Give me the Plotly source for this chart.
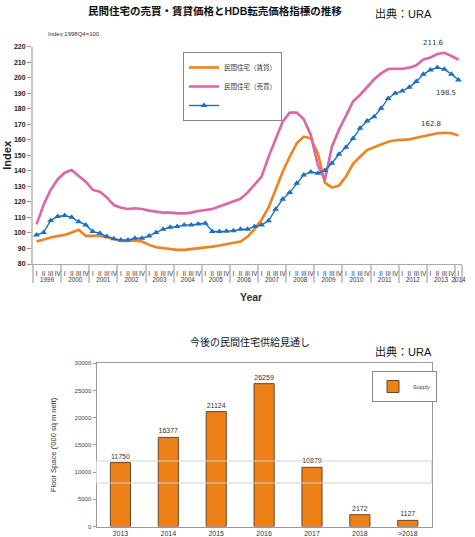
import plotly.graph_objects as go

# ---------------- data ----------------
years = ["1999", "2000", "2001", "2002", "2003", "2004", "2005", "2006",
         "2007", "2008", "2009", "2010", "2011", "2012", "2013", "2014"]
quarter_labels = ["I", "II", "III", "IV"]

rental = [94.5, 96.0, 97.0, 98.1, 98.7, 100.3, 102.0, 98.1, 98.1, 98.1,
          97.3, 96.2, 94.9, 94.9, 95.1, 94.5, 92.3, 90.8, 90.2, 89.7,
          89.1, 89.1, 89.5, 90.2, 90.8, 91.2, 91.9, 92.7, 93.5, 94.5,
          97.5, 102.5, 108.5, 116.5, 128.0, 139.5, 149.1, 157.7, 162.1, 161.0,
          151.3, 132.4, 129.2, 130.5, 136.3, 144.5, 149.1, 153.4, 155.2, 157.1,
          158.8, 159.7, 159.9, 160.3, 161.4, 162.3, 163.1, 164.2, 164.6, 164.2,
          162.8]
sale = [105.5, 118.0, 127.7, 134.5, 138.8, 140.5, 136.7, 133.0, 127.7, 126.6,
        122.9, 118.0, 116.3, 115.4, 115.9, 115.4, 114.4, 113.7, 113.1, 113.1,
        112.6, 112.6, 113.1, 114.1, 114.8, 115.4, 117.0, 118.7, 120.6, 122.0,
        126.0, 130.9, 136.3, 149.1, 161.0, 171.7, 177.5, 177.5, 173.2, 163.1,
        143.8, 134.2, 155.6, 166.4, 175.4, 184.6, 188.9, 194.2, 199.0, 202.8,
        205.6, 205.8, 205.8, 206.5, 208.0, 211.8, 213.1, 215.3, 216.1, 214.0,
        211.6]
hdb = [98.7, 100.3, 108.0, 110.6, 111.2, 110.1, 107.3, 105.2, 100.9, 99.8,
       97.7, 96.2, 95.5, 95.5, 96.6, 96.6, 98.1, 100.3, 102.4, 103.7,
       104.1, 105.2, 105.2, 105.8, 106.3, 101.0, 101.0, 101.1, 101.5, 102.4,
       102.4, 104.1, 105.2, 107.8, 115.3, 121.7, 126.0, 132.0, 137.4, 139.3,
       138.5, 140.2, 144.9, 150.7, 155.2, 160.8, 167.4, 172.1, 174.9, 180.3,
       186.7, 190.0, 191.5, 193.8, 197.5, 202.2, 205.0, 206.6, 205.4, 202.3,
       198.5]

supply_cats = ["2013", "2014", "2015", "2016", "2017", "2018", ">2018"]
supply = [11750, 16377, 21124, 26259, 10879, 2172, 1127]

# ---------------- styles ----------------
ORANGE = "#F08221"
PINK = "#DB67A6"
BLUE = "#1C70BE"
BAR = "#EE8018"
FONT = "Liberation Sans, 'Noto Sans CJK JP', sans-serif"
W, H = 475, 537

outer, inner = [], []
for y in years:
    qs = quarter_labels if y != "2014" else quarter_labels[:1]
    for q in qs:
        outer.append(y)
        inner.append(q)
n = len(outer)

fig = go.Figure()
fig.add_trace(go.Scatter(x=[outer, inner], y=rental, mode="lines",
                         line=dict(color=ORANGE, width=2.6),
                         name="民間住宅（賃貸）", xaxis="x", yaxis="y", legend="legend"))
fig.add_trace(go.Scatter(x=[outer, inner], y=sale, mode="lines",
                         line=dict(color=PINK, width=2.6),
                         name="民間住宅（売買）", xaxis="x", yaxis="y", legend="legend"))
fig.add_trace(go.Scatter(x=[outer, inner], y=hdb, mode="lines+markers",
                         line=dict(color=BLUE, width=1.4),
                         marker=dict(symbol="triangle-up", size=6, color=BLUE),
                         name=" ", xaxis="x", yaxis="y", legend="legend"))

fig.add_trace(go.Bar(x=supply_cats, y=supply, width=0.42,
                     marker=dict(color=BAR, line=dict(color="#6a4526", width=1)),
                     text=[str(v) for v in supply], textposition="outside",
                     textfont=dict(size=7, color="#333"), cliponaxis=False,
                     name="Supply", xaxis="x2", yaxis="y2", legend="legend2"))


def px(x):
    return x / W


def py(y):
    return 1 - y / H


# last-value labels tied to the data
def lastlabel(series, xs, ys):
    fig.add_annotation(xref="x domain", yref="y", x=(n - 0.5) / n, y=series[-1],
                       text=f"{series[-1]:.1f}", showarrow=False, xshift=xs, yshift=ys,
                       font=dict(size=7, color="#333", family="DejaVu Sans"))


lastlabel(sale, -12, 17)
lastlabel(hdb, 0, -13)
lastlabel(rental, -15, 11)

ann = [
    dict(x=px(215), y=py(11), text="<b>民間住宅の売買・賃貸価格とHDB転売価格指標の推移</b>",
         font=dict(size=10.5, color="#111")),
    dict(x=px(403), y=py(14), text="出典：URA", font=dict(size=11, color="#111")),
    dict(x=px(46), y=py(34), text="Index:1998Q4=100", xanchor="left",
         font=dict(size=6, color="#333")),
    dict(x=px(251), y=py(297), text="<b>Year</b>", font=dict(size=10.5, color="#333")),
    dict(x=px(250), y=py(342), text="今後の民間住宅供給見通し", font=dict(size=10, color="#111")),
    dict(x=px(403), y=py(351), text="出典：URA", font=dict(size=11, color="#111")),
]
for a in ann:
    a.setdefault("xanchor", "center")
    fig.add_annotation(xref="paper", yref="paper", showarrow=False, yanchor="middle", **a)

# faint rectangle in lower chart
fig.add_shape(type="rect", xref="paper", yref="paper",
              x0=px(96.5), x1=px(431.7), y0=py(483), y1=py(461),
              line=dict(color="#d4d4d4", width=1))

fig.update_layout(
    width=W, height=H, autosize=False,
    margin=dict(l=0, r=0, t=0, b=0, autoexpand=False),
    paper_bgcolor="white", plot_bgcolor="white",
    font=dict(family=FONT, color="#222"),
    showlegend=True,
    xaxis=dict(domain=[px(33), px(462)], anchor="y", type="multicategory", automargin=False,
               range=[-0.5, n - 0.5], autorange=False,
               tickmode="linear", tick0=0, dtick=1, ticklabelstandoff=3,
               showline=True, linecolor="#aaa", linewidth=1, ticks="", tickangle=0,
               showdividers=True, dividercolor="#c8c8c8", dividerwidth=2,
               tickfont=dict(size=6.3, color="#333",
                             family="Liberation Sans Narrow, Liberation Sans, sans-serif"),
               showgrid=False),
    yaxis=dict(domain=[py(264), py(46.7)], anchor="x", range=[80, 220], dtick=10,
               automargin=False,
               showline=True, linecolor="#c8c8c8", linewidth=2, ticks="outside",
               ticklen=4, tickcolor="#999", showgrid=False, zeroline=False,
               tickfont=dict(size=7, color="#222", weight="bold"),
               title=dict(text="<b>Index</b>", font=dict(size=11, color="#222"), standoff=0)),
    xaxis2=dict(domain=[px(96.5), px(431.7)], anchor="y2", type="category", automargin=False,
                showline=True, linecolor="#999", mirror=True, ticks="",
                tickfont=dict(size=7, color="#333"), showgrid=False),
    yaxis2=dict(domain=[py(526.5), py(363.3)], anchor="x2", range=[0, 30000], dtick=5000,
                automargin=False,
                tickformat="d", showline=True, linecolor="#999", mirror=True,
                ticks="outside", ticklen=3, tickcolor="#999", showgrid=False, zeroline=False,
                tickfont=dict(size=6, color="#444"),
                title=dict(text="Floor Space ('000 sq m nett)", font=dict(size=7.5, color="#333"),
                           standoff=16)),
    legend=dict(x=px(183), y=py(52), xanchor="left", yanchor="top",
                bgcolor="white", bordercolor="#888", borderwidth=1,
                font=dict(size=6.5, color="#333"), itemwidth=30, tracegroupgap=0),
    legend2=dict(x=px(372), y=py(371), xanchor="left", yanchor="top",
                 bgcolor="white", bordercolor="#888", borderwidth=1,
                 font=dict(size=5.5, color="#444"), itemwidth=30),
)

fig.write_html("out.html", config={"displayModeBar": False},
               post_script="document.body.style.margin='0';")
